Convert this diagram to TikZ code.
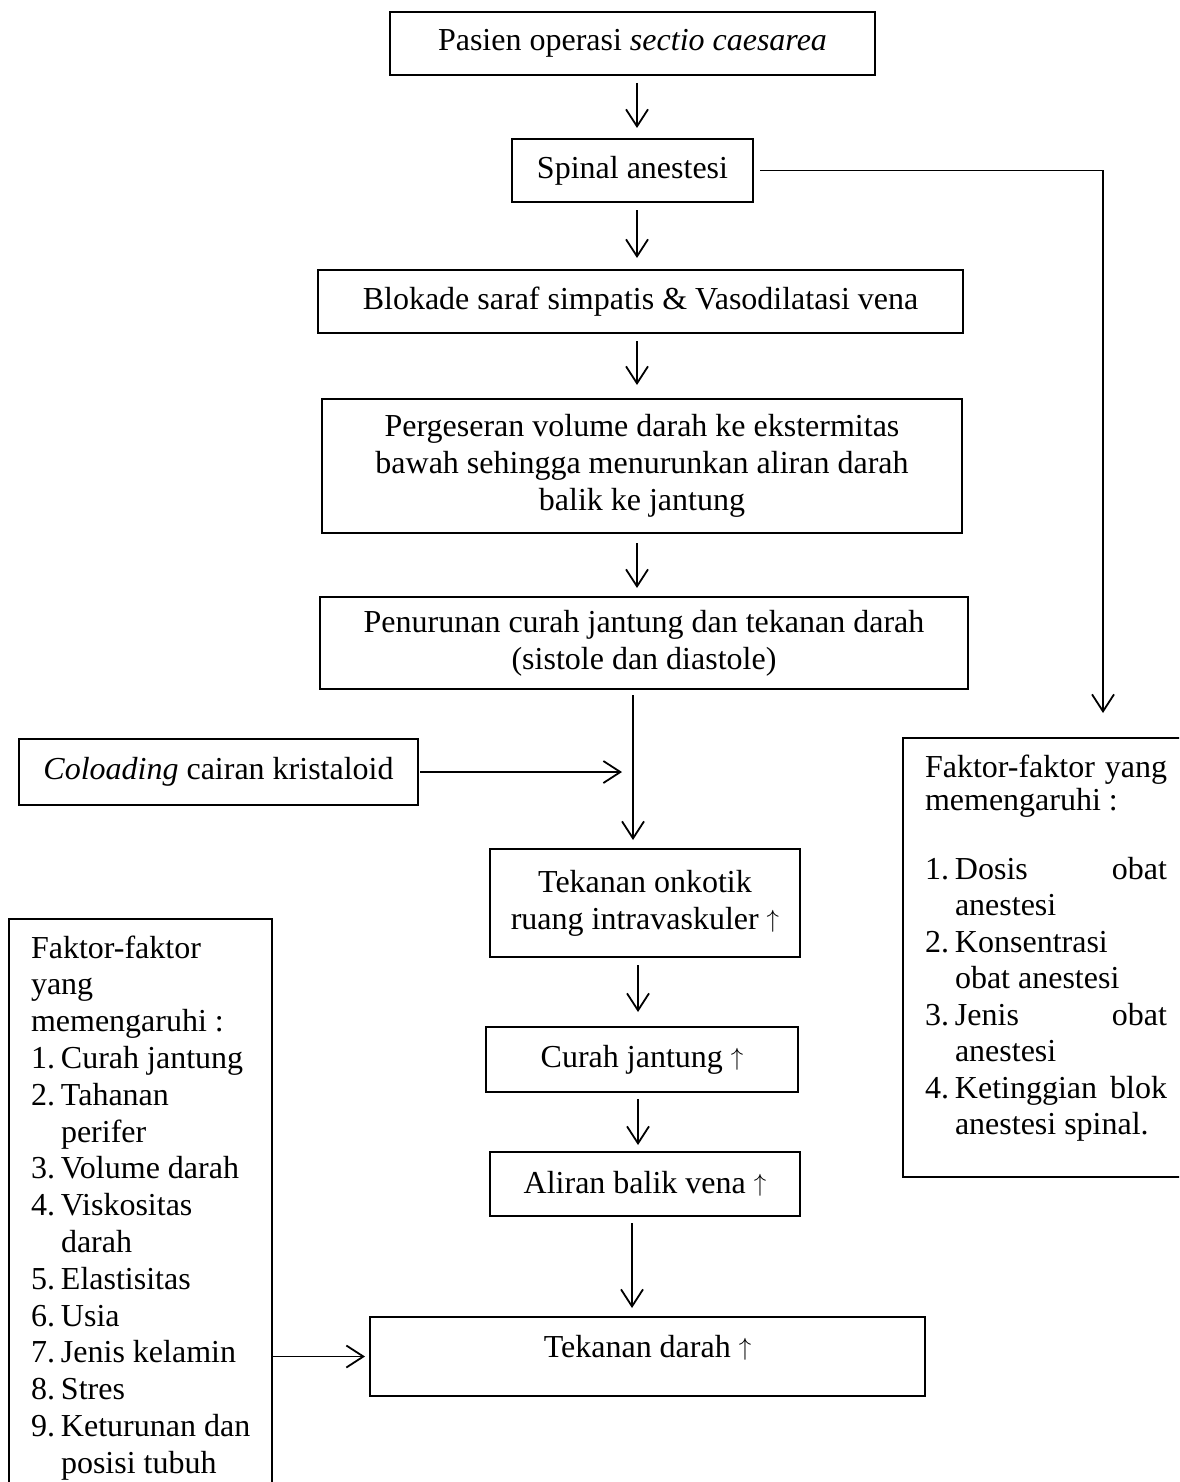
\documentclass[tikz,border=0pt]{standalone}
\usepackage{fontspec}
\setmainfont{Liberation Serif}
\usetikzlibrary{arrows.meta}
\newcommand\nbx[1]{\makebox[30pt][l]{#1}}
\newcommand\upar{\raisebox{1.5pt}{$\uparrow$}}
\begin{document}
\begin{tikzpicture}[x=1pt,y=-1pt,
  every node/.style={font=\fontsize{32}{37}\selectfont, inner sep=0pt, outer sep=0pt},
  box/.style={draw, line width=1.8pt, align=center},
  arr/.style={line width=1.8pt, -{Straight Barb[length=17pt,width=22pt]}},
  ln/.style={anchor=base west}
]
\useasboundingbox (0,0) rectangle (1179,1482);
\clip (0,0) rectangle (1179,1482);
\fill[white] (0,0) rectangle (1179,1482);

% main column boxes
\node[box, minimum width=485, minimum height=63] (b1) at (632.5,43.5) {Pasien operasi \textit{sectio caesarea}};
\node[box, minimum width=241, minimum height=63] (b2) at (632.5,170.5) {Spinal anestesi};
\node[box, minimum width=645, minimum height=63] (b3) at (640.5,301.5) {Blokade saraf simpatis \& Vasodilatasi vena};
\node[box, minimum width=640, minimum height=134] (b4) at (642,466) {Pergeseran volume darah ke ekstermitas\\bawah sehingga menurunkan aliran darah\\balik ke jantung};
\node[box, minimum width=648, minimum height=92] (b5) at (644,643) {Penurunan curah jantung dan tekanan darah\\(sistole dan diastole)};
\node[box, minimum width=399, minimum height=66] (col) at (218.5,772) {\textit{Coloading} cairan kristaloid};
\node[box, minimum width=310, minimum height=108] (b7) at (645,903) {Tekanan onkotik\\ruang intravaskuler \upar};
\node[box, minimum width=312, minimum height=65] (b8) at (642,1059.5) {Curah jantung \upar};
\node[box, minimum width=310, minimum height=64] (b9) at (645,1184) {Aliran balik vena \upar};
\node[box, minimum width=555, minimum height=79] (b10) at (647.5,1356.5) {};
\node[anchor=base] (b10t) at (647.5,1357) {Tekanan darah \upar};

% factor boxes
\node[draw, line width=1.8pt, minimum width=320, minimum height=439, anchor=north west] (rf) at (903,738) {};
\node[draw, line width=1.8pt, minimum width=263, minimum height=640, anchor=north west] (lf) at (9,919) {};

% right factor text
\foreach \t/\yy [count=\i] in {
  {\hbox to 242pt{Faktor-faktor\hfill yang}}/777,
  {memengaruhi :}/810,
  {\hbox to 242pt{\nbx{1.}Dosis\hfill obat}}/879,
  {\nbx{}anestesi}/915.5,
  {\nbx{2.}Konsentrasi}/952,
  {\nbx{}obat anestesi}/988.5,
  {\hbox to 242pt{\nbx{3.}Jenis\hfill obat}}/1025,
  {\nbx{}anestesi}/1061.5,
  {\hbox to 242pt{\nbx{4.}Ketinggian\hfill blok}}/1098,
  {\nbx{}anestesi spinal.}/1134.5}
  \node[ln] (rt\i) at (925,\yy) {\t};

% left factor text
\foreach \t [count=\i from 0] in {
  Faktor-faktor, yang, memengaruhi :,
  {\nbx{1.}Curah jantung}, {\nbx{2.}Tahanan}, {\nbx{}perifer},
  {\nbx{3.}Volume darah}, {\nbx{4.}Viskositas}, {\nbx{}darah},
  {\nbx{5.}Elastisitas}, {\nbx{6.}Usia}, {\nbx{7.}Jenis kelamin},
  {\nbx{8.}Stres}, {\nbx{9.}Keturunan dan}, {\nbx{}posisi tubuh}}
  \node[ln] (lt\i) at (31,{958+36.8*\i}) {\t};

% helper coordinates
\coordinate (ax) at (637,0);
\coordinate (j) at (633,772);
\coordinate (rin) at (1103,713);

% connectors
\draw[arr, shorten <=8pt, shorten >=11pt] (b1.south -| ax) -- (b2.north -| ax);
\draw[arr, shorten <=8pt, shorten >=12pt] (b2.south -| ax) -- (b3.north -| ax);
\draw[arr, shorten <=8pt, shorten >=14pt] (b3.south -| ax) -- (b4.north -| ax);
\draw[arr, shorten <=10pt, shorten >=9pt] (b4.south -| ax) -- (b5.north -| ax);
\draw[arr, shorten <=6pt, shorten >=9pt] (b5.south -| j) -- (b7.north -| j);
\draw[arr, shorten <=2pt, shorten >=11pt] (col.east) -- (j);
\draw[arr, shorten <=8pt, shorten >=15pt] (b7.south -| 638,0) -- (b8.north -| 638,0);
\draw[arr, shorten <=7pt, shorten >=7pt] (b8.south -| 638,0) -- (b9.north -| 638,0);
\draw[arr, shorten <=7pt, shorten >=9pt] (b9.south -| 632,0) -- (b10.north -| 632,0);
\draw[arr, shorten <=7pt] (b2.east) -| (rin);
\draw[arr, shorten >=5pt] (lf.east |- b10.west) -- (b10.west);
\end{tikzpicture}
\end{document}
